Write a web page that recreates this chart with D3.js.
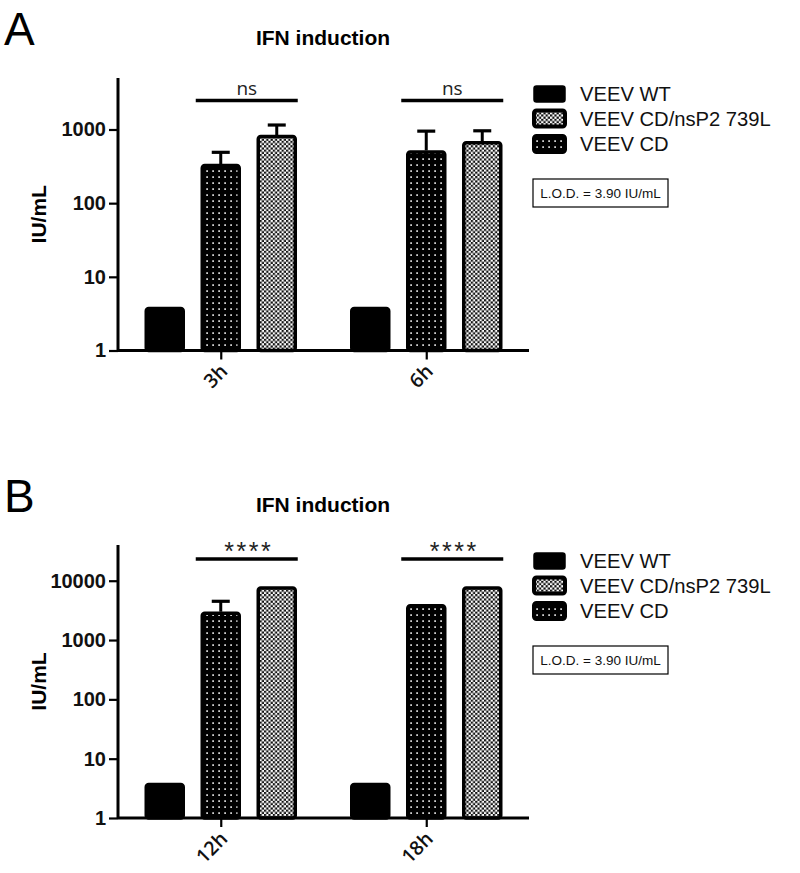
<!DOCTYPE html>
<html><head><meta charset="utf-8">
<script src="https://cdn.jsdelivr.net/npm/d3@7"></script>
<style>body{margin:0;background:#fff}svg{display:block}</style>
</head><body>
<script>
// ---- data ----
const seriesNames = ["VEEV WT", "VEEV CD", "VEEV CD/nsP2 739L"];
const legendOrder = ["VEEV WT", "VEEV CD/nsP2 739L", "VEEV CD"];
const categoriesA = ["3h", "6h"];
const categoriesB = ["12h", "18h"];
const valuesA_WT = [3.9, 3.9];
const valuesA_CD = [340, 520];
const valuesA_NS = [840, 690];
const errA_CD = [490, 950];
const errA_NS = [1150, 960];
const valuesB_WT = [3.9, 3.9];
const valuesB_CD = [3000, 4000];
const valuesB_NS = [8000, 8000];
const errB_CD = [4500, null];
const errB_NS = [null, null];
const sigA = ["ns", "ns"];
const sigB = ["****", "****"];
const yTicksA = [1, 10, 100, 1000];
const yTicksB = [1, 10, 100, 1000, 10000];
const yMaxA = 5000, yMaxB = 40000;
const titleText = "IFN induction";
const yTitle = "IU/mL";
const lodText = "L.O.D. = 3.90 IU/mL";

const W = 800, H = 873;
const svg = d3.select("body").append("svg").attr("width", W).attr("height", H);
const defs = svg.append("defs");

// patterns
const dots = defs.append("pattern").attr("id", "dots").attr("patternUnits", "userSpaceOnUse")
  .attr("width", 6).attr("height", 6);
dots.append("rect").attr("width", 6).attr("height", 6).attr("fill", "#000");
dots.append("rect").attr("x", 2.3).attr("y", 2.3).attr("width", 1.6).attr("height", 1.6).attr("fill", "#fff");
const check = defs.append("pattern").attr("id", "check").attr("patternUnits", "userSpaceOnUse")
  .attr("width", 4.4).attr("height", 4.4);
check.append("rect").attr("width", 4.4).attr("height", 4.4).attr("fill", "#fff");
check.append("rect").attr("width", 2.2).attr("height", 2.2).attr("fill", "#111");
check.append("rect").attr("x", 2.2).attr("y", 2.2).attr("width", 2.2).attr("height", 2.2).attr("fill", "#111");

const fillOf = {"VEEV WT": "#000", "VEEV CD": "url(#dots)", "VEEV CD/nsP2 739L": "url(#check)"};

const ARIAL = "'Liberation Sans', Arial, sans-serif";
const OPEN = "'Open Sans', sans-serif";

const panels = [
  {letter: "A", dy: 0, cats: categoriesA, vals: [valuesA_WT, valuesA_CD, valuesA_NS], errs: [null, errA_CD, errA_NS],
   sig: sigA, ticks: yTicksA, yMax: yMaxA, yTop: 78, yBase: 350.5},
  {letter: "B", dy: 467, cats: categoriesB, vals: [valuesB_WT, valuesB_CD, valuesB_NS], errs: [null, errB_CD, errB_NS],
   sig: sigB, ticks: yTicksB, yMax: yMaxB, yTop: 545, yBase: 818}
];

panels.forEach(p => {
  const g = svg.append("g");
  const x = d3.scalePoint().domain(p.cats).range([118, 529]).padding(0.5);
  const xs = d3.scaleBand().domain(seriesNames).range([-84, 84]).paddingInner(16/56).paddingOuter(8/56);
  const y = d3.scaleLog().domain([1, p.yMax]).range([p.yBase, p.yTop]);

  // panel letter
  g.append("text").attr("x", 4).attr("y", 45 + p.dy).attr("font-family", ARIAL).attr("font-size", 46)
    .text(p.letter);
  // title
  g.append("text").attr("x", 323).attr("y", 45 + p.dy).attr("text-anchor", "middle")
    .attr("font-family", ARIAL).attr("font-weight", "bold").attr("font-size", 21).text(titleText);

  // y axis
  const minor = [];
  for (let d = 1; d <= p.yMax; d *= 10) for (let k = 2; k <= 9; k++) if (d * k <= p.yMax) minor.push(d * k);
  const yAxisMinor = d3.axisLeft(y).tickValues(minor).tickSize(5).tickFormat("");
  const yAxis = d3.axisLeft(y).tickValues(p.ticks).tickSize(9).tickPadding(3).tickFormat(d3.format("d"));
  const ga = g.append("g").attr("transform", "translate(118,0)");
  ga.call(yAxisMinor);
  ga.call(yAxis);
  ga.selectAll("path.domain").attr("stroke-width", 3).attr("d", `M0,${p.yTop}V${p.yBase}`);
  ga.selectAll(".tick line").attr("stroke-width", 2.2);
  ga.selectAll(".tick text").attr("font-family", ARIAL).attr("font-weight", "bold").attr("font-size", 20)
    .attr("fill", "#111");

  g.append("text").attr("transform", `translate(46,${(p.yBase + p.yTop) / 2})) rotate(-90)`.replace("))", ")"))
    .attr("text-anchor", "middle").attr("font-family", ARIAL).attr("font-weight", "bold").attr("font-size", 21)
    .text(yTitle);

  // bars
  seriesNames.forEach((s, si) => {
    p.cats.forEach((c, ci) => {
      const v = p.vals[si][ci];
      const x0 = x(c) + xs(s);
      const bw = xs.bandwidth();
      const e = p.errs[si] ? p.errs[si][ci] : null;
      if (e != null) {
        const cx = x0 + bw / 2;
        g.append("line").attr("x1", cx).attr("x2", cx).attr("y1", y(v)).attr("y2", y(e))
          .attr("stroke", "#000").attr("stroke-width", 3);
        g.append("line").attr("x1", cx - 9).attr("x2", cx + 9).attr("y1", y(e)).attr("y2", y(e))
          .attr("stroke", "#000").attr("stroke-width", 3.2);
      }
      g.append("rect").attr("x", x0 + 1.5).attr("y", y(v) + 1.5).attr("width", bw - 3)
        .attr("height", p.yBase - y(v) - 1.5).attr("rx", 2.5)
        .attr("fill", fillOf[s]).attr("stroke", "#000").attr("stroke-width", 3.5)
        .attr("stroke-linejoin", "round");
    });
  });

  // x axis
  const gx = g.append("g").attr("transform", `translate(0,${p.yBase})`);
  gx.call(d3.axisBottom(x).tickSize(9).tickSizeOuter(0).tickFormat(""));
  gx.selectAll("path.domain").attr("stroke-width", 3).attr("d", "M118,0H529");
  gx.selectAll(".tick line").attr("stroke-width", 2.2);
  p.cats.forEach(c => {
    g.append("text").attr("transform", `translate(${x(c) + 8},${p.yBase + 22}) rotate(-45)`)
      .attr("text-anchor", "end").attr("font-family", OPEN).attr("font-weight", 600).attr("font-size", 19.5)
      .attr("fill", "#111").text(c);
  });

  // significance
  p.cats.forEach((c, ci) => {
    const xl = x(c) + xs(seriesNames[1]) - 5;
    const xr = x(c) + xs(seriesNames[2]) + xs.bandwidth() + 1;
    const ly = p.letter === "A" ? 100.5 : 559;
    g.append("line").attr("x1", xl).attr("x2", xr).attr("y1", ly).attr("y2", ly)
      .attr("stroke", "#000").attr("stroke-width", 3.5);
    if (p.sig[ci] === "ns") {
      g.append("text").attr("x", (xl + xr) / 2).attr("y", ly - 6).attr("text-anchor", "middle")
        .attr("font-family", OPEN).attr("font-size", 19).attr("fill", "#222").text(p.sig[ci]);
    } else {
      g.append("text").attr("x", (xl + xr) / 2 + 2).attr("y", ly + 1).attr("text-anchor", "middle")
        .attr("font-family", ARIAL).attr("font-size", 25).attr("letter-spacing", 2.5).attr("fill", "#222").text(p.sig[ci]);
    }
  });

  // legend
  const rowY = [94, 118.5, 144];
  legendOrder.forEach((s, i) => {
    const cy = rowY[i] + p.dy;
    g.append("rect").attr("x", 534).attr("y", cy - 8).attr("width", 31).attr("height", 16).attr("rx", 2.5)
      .attr("fill", s === "VEEV WT" ? "#000" : fillOf[s]).attr("stroke", "#000").attr("stroke-width", s === "VEEV WT" ? 1.5 : 4);
    g.append("text").attr("x", 580).attr("y", cy).attr("dy", "0.36em").attr("font-family", ARIAL)
      .attr("font-size", 20.2).attr("fill", "#111").text(s);
  });
  g.append("rect").attr("x", 533).attr("y", 179 + p.dy).attr("width", 135).attr("height", 28)
    .attr("fill", "none").attr("stroke", "#000").attr("stroke-width", 1.2);
  g.append("text").attr("x", 600.5).attr("y", 193 + p.dy).attr("dy", "0.36em").attr("text-anchor", "middle")
    .attr("font-family", ARIAL).attr("font-size", 13.5).attr("fill", "#111").text(lodText);
});
</script>
</body></html>
